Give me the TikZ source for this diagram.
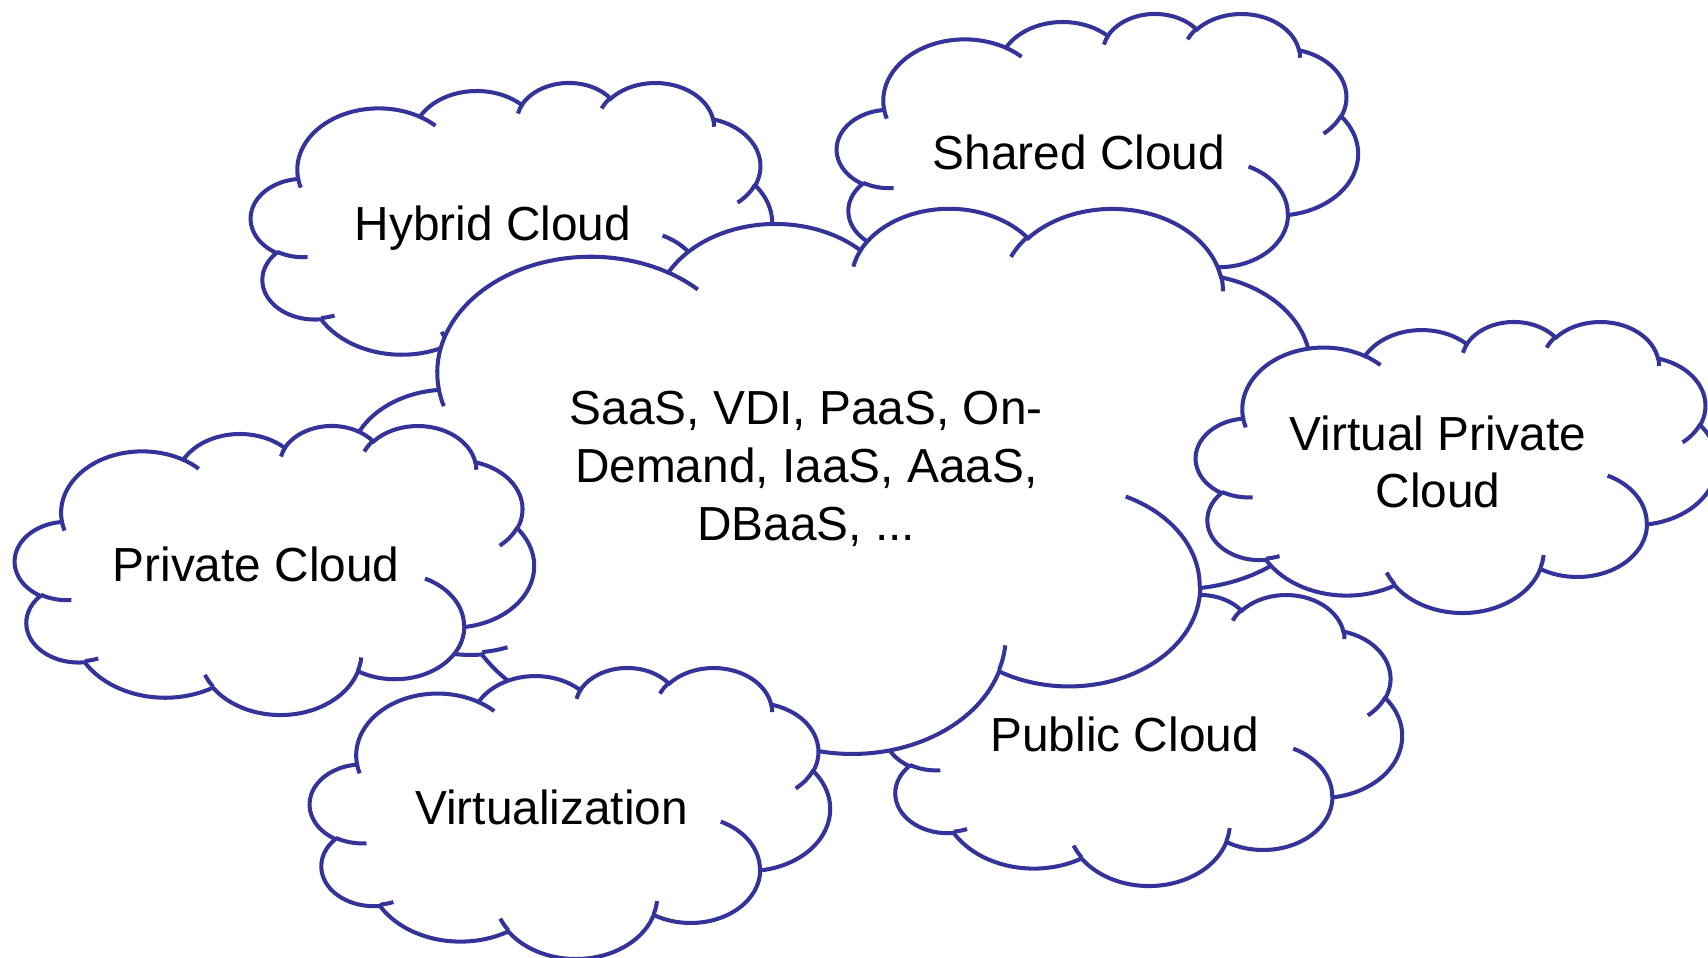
\documentclass[tikz,border=0pt]{standalone}
\usepackage{fontspec}
\setmainfont{Liberation Sans}

\definecolor{cloudblue}{RGB}{51,51,153}

% arc angles of the office cloud are taken on the ellipse, tikz wants the parameter
\pgfmathdeclarefunction{parang}{3}{\pgfmathparse{atan2(#1*sin(#3),#2*cos(#3))}}

% cloud outline on a 43.2 x 43.2 box: x radius / y radius / start / sweep
\def\cloudarcs{6.753/9.19/-190.4875/123.7805, 5.333/7.267/-144.1024/89.9452,
  4.365/5.945/-145.8079/99.723, 4.857/6.595/-130.9861/117.2417,
  5.333/7.273/-78.7089/109.0269, 6.775/9.22/-46.2673/130.269,
  5.785/7.867/0.625/114.0333, 6.752/9.215/22.4516/115.1726,
  7.72/10.543/66.2426/75.711, 4.36/5.918/-274.9421/146.7356,
  4.345/5.945/-246.8285/152.5189}
% the small inner arcs: start point / x radius / y radius / start / sweep
\def\cloudhooks{4.693/26.177/4.345/5.945/86.742/26.4295,
  6.928/34.899/4.36/5.918/73.6105/11.4475,
  16.478/39.09/6.752/9.215/137.6242/14.0811,
  28.827/34.751/6.752/9.215/6.4533/15.9984,
  34.129/22.954/5.785/7.867/-70.2924/70.9174,
  41.798/15.354/5.333/7.273/30.318/27.7515,
  38.324/5.426/4.857/6.595/-13.7443/14.8589,
  29.078/3.952/4.857/6.595/-149.1815/18.1954,
  22.141/4.72/4.365/5.945/-163.4943/17.6864,
  14/5.192/6.753/9.19/-66.707/12.3194,
  4.127/15.789/6.753/9.19/157.6544/11.8582}

% [#1] text options, #2 name, #3 left, #4 top, #5 width, #6 height (in pixels), #7 text
\newcommand\cloudbox[7][]{%
  \begin{scope}[shift={(#3/100,-#4/100)}, xscale=#5/4320, yscale=-#6/4320]
    \filldraw[cloud outline] (3.9,14.37)
      \foreach \rx/\ry/\st/\sw in \cloudarcs
        {arc[x radius=\rx, y radius=\ry, start angle={parang(\rx,\ry,\st)},
             delta angle={mod(parang(\rx,\ry,\st+\sw)-parang(\rx,\ry,\st)+720,360)}]}
      -- cycle;
    \foreach \hx/\hy/\rx/\ry/\st/\sw in \cloudhooks
      \draw[cloud hook] (\hx,\hy) arc[x radius=\rx, y radius=\ry,
        start angle={parang(\rx,\ry,\st)},
        delta angle={mod(parang(\rx,\ry,\st+\sw)-parang(\rx,\ry,\st)+720,360)}];
  \end{scope}
  \node[cloud text, #1] (#2) at ({(#3+0.4646*#5)/100},{-(#4+0.4768*#6+2)/100}) {#7};
}

\begin{document}
\begin{tikzpicture}
  \tikzstyle{cloud hook} = [draw=cloudblue, line width=1.15pt]
  \tikzstyle{cloud outline} = [cloud hook, fill=white]
  \tikzstyle{cloud text} = [inner sep=0pt, align=center,
    font=\fontsize{13.6}{16.4}\selectfont]

  \useasboundingbox (0,0) rectangle (17.08,-9.58);

  % Clouds behind the big one
  \cloudbox[yshift=-0.06cm]{hybrid}{251}{82}{521}{289}{Hybrid Cloud}
  \cloudbox{shared}{837}{13}{521}{289}{Shared Cloud}
  \cloudbox{public}{884}{594}{518}{291}{Public Cloud}

  % Big cloud
  \cloudbox{services}{350}{207}{982}{545}{SaaS, VDI, PaaS, On-\\Demand, IaaS, AaaS,\\DBaaS, ...}

  % Clouds in front
  \cloudbox{private}{15}{425}{519}{289}{Private Cloud}
  \cloudbox{virtual}{310}{667}{520}{291}{Virtualization}
  \cloudbox{vpc}{1196}{321}{521}{291}{Virtual Private\\Cloud}

\end{tikzpicture}
\end{document}
